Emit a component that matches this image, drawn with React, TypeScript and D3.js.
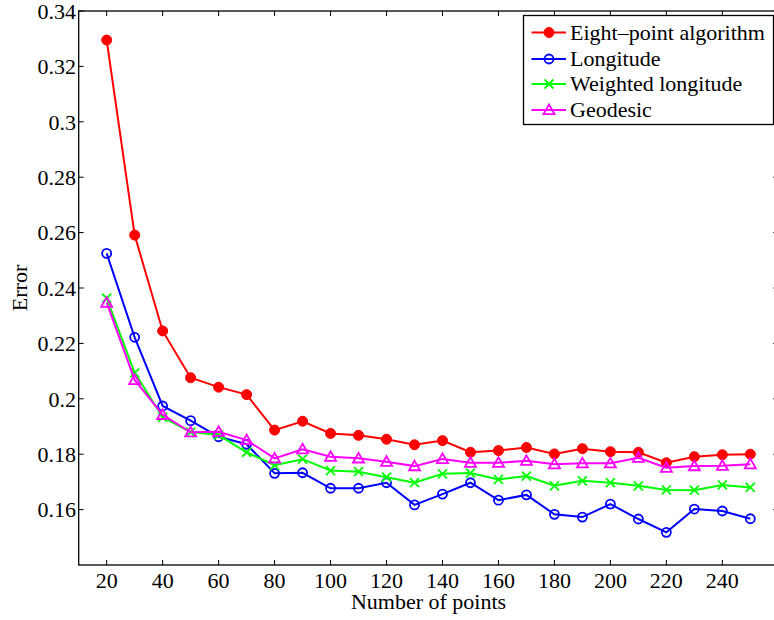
import React from "react";
import * as d3 from "d3";

const xValues = [20, 30, 40, 50, 60, 70, 80, 90, 100, 110, 120, 130, 140, 150, 160, 170, 180, 190, 200, 210, 220, 230, 240, 250];
const eightPoint = [0.3295, 0.2591, 0.2245, 0.2076, 0.2042, 0.2015, 0.1887, 0.1919, 0.1875, 0.1868, 0.1854, 0.1834, 0.1849, 0.1807, 0.1813, 0.1824, 0.1801, 0.1820, 0.1809, 0.1807, 0.1769, 0.1791, 0.1798, 0.1800];
const longitude = [0.2525, 0.2222, 0.1974, 0.1921, 0.1863, 0.1836, 0.1731, 0.1733, 0.1677, 0.1677, 0.1697, 0.1617, 0.1656, 0.1697, 0.1634, 0.1653, 0.1583, 0.1573, 0.1620, 0.1566, 0.1518, 0.1602, 0.1595, 0.1567];
const weighted = [0.2363, 0.2094, 0.1933, 0.1880, 0.1869, 0.1807, 0.1760, 0.1782, 0.1741, 0.1737, 0.1717, 0.1697, 0.1729, 0.1732, 0.1709, 0.1721, 0.1686, 0.1704, 0.1697, 0.1686, 0.1671, 0.1670, 0.1689, 0.1680];
const geodesic = [0.2347, 0.2068, 0.1942, 0.1879, 0.1881, 0.1851, 0.1785, 0.1818, 0.1791, 0.1785, 0.1773, 0.1757, 0.1783, 0.1769, 0.1769, 0.1776, 0.1764, 0.1767, 0.1767, 0.1787, 0.1751, 0.1757, 0.1758, 0.1764];

const xTicks = [20, 40, 60, 80, 100, 120, 140, 160, 180, 200, 220, 240];
const yTicks = [0.16, 0.18, 0.2, 0.22, 0.24, 0.26, 0.28, 0.3, 0.32, 0.34];
const yTickLabels = ["0.16", "0.18", "0.2", "0.22", "0.24", "0.26", "0.28", "0.3", "0.32", "0.34"];

const seriesNames = ["Eight\u2013point algorithm", "Longitude", "Weighted longitude", "Geodesic"];
const seriesColors = ["#ff0000", "#0000ff", "#00ff00", "#ff00ff"];
const seriesMarkers = ["dot", "circle", "x", "tri"];
const seriesData = [eightPoint, longitude, weighted, geodesic];

const FONT = "'Liberation Serif', 'Times New Roman', serif";

function Marker({ type, x, y, color }: { type: string; x: number; y: number; color: string }) {
  if (type === "dot") return <circle cx={x} cy={y} r={5} fill={color} stroke={color} strokeWidth={1} />;
  if (type === "circle") return <circle cx={x} cy={y} r={4.5} fill="none" stroke={color} strokeWidth={1.8} />;
  if (type === "x") {
    const s = 4.5;
    return (
      <g stroke={color} strokeWidth={1.8}>
        <line x1={x - s} y1={y - s} x2={x + s} y2={y + s} />
        <line x1={x - s} y1={y + s} x2={x + s} y2={y - s} />
      </g>
    );
  }
  const s = 5.5;
  return (
    <path
      d={`M${x},${y - s} L${x + s},${y + s * 0.75} L${x - s},${y + s * 0.75} Z`}
      fill="none"
      stroke={color}
      strokeWidth={1.8}
    />
  );
}

export default function App() {
  const W = 774;
  const H = 620;
  const left = 78.7;
  const right = 778.3;
  const top = 11;
  const bottom = 565;
  const x = d3.scaleLinear().domain([10, 260]).range([left, right]);
  const y = d3.scaleLinear().domain([0.14, 0.34]).range([bottom, top]);
  const line = d3
    .line<number>()
    .x((_, i) => x(xValues[i]))
    .y((d) => y(d));
  const tk = 5;

  const legX = 523.5;
  const legY = 15.5;
  const legW = 250;
  const legH = 109;
  const rowY = [32.5, 59, 84, 110];

  return (
    <svg
      width={W}
      height={H}
      style={{ position: "absolute", left: 0, top: 0, background: "#fff" }}
      fontFamily={FONT}
    >
      <rect x={0} y={0} width={W} height={H} fill="#fff" />
      {/* axes box */}
      <rect x={left} y={top} width={right - left} height={bottom - top} fill="none" stroke="#000" strokeWidth={1.3} />
      {xTicks.map((t) => (
        <g key={"xt" + t}>
          <line x1={x(t)} x2={x(t)} y1={bottom} y2={bottom - tk} stroke="#000" strokeWidth={1} />
          <line x1={x(t)} x2={x(t)} y1={top} y2={top + tk} stroke="#000" strokeWidth={1} />
          <text x={x(t)} y={588} fontSize={22} textAnchor="middle" fill="#000">
            {t}
          </text>
        </g>
      ))}
      {yTicks.map((t, i) => (
        <g key={"yt" + t}>
          <line x1={left} x2={left + tk} y1={y(t)} y2={y(t)} stroke="#000" strokeWidth={1} />
          <line x1={right} x2={right - tk} y1={y(t)} y2={y(t)} stroke="#000" strokeWidth={1} />
          <text x={76} y={y(t)} dy="0.35em" fontSize={22} textAnchor="end" fill="#000">
            {yTickLabels[i]}
          </text>
        </g>
      ))}
      <text x={(left + right) / 2} y={609} fontSize={22} textAnchor="middle" fill="#000">
        Number of points
      </text>
      <text
        transform={`translate(27,${(top + bottom) / 2}) rotate(-90)`}
        fontSize={22}
        textAnchor="middle"
        fill="#000"
      >
        Error
      </text>
      {/* series */}
      {seriesData.map((data, si) => (
        <g key={"s" + si}>
          <path d={line(data) || ""} fill="none" stroke={seriesColors[si]} strokeWidth={2} />
          {data.map((v, i) => (
            <Marker key={i} type={seriesMarkers[si]} x={x(xValues[i])} y={y(v)} color={seriesColors[si]} />
          ))}
        </g>
      ))}
      {/* legend */}
      <rect x={legX} y={legY} width={legW} height={legH} fill="#fff" stroke="#000" strokeWidth={1.3} />
      {seriesNames.map((n, i) => (
        <g key={"l" + i}>
          <line x1={531.5} x2={566} y1={rowY[i]} y2={rowY[i]} stroke={seriesColors[i]} strokeWidth={2} />
          <Marker type={seriesMarkers[i]} x={549} y={rowY[i]} color={seriesColors[i]} />
          <text x={570} y={rowY[i]} dy="0.33em" fontSize={22} fill="#000">
            {n}
          </text>
        </g>
      ))}
    </svg>
  );
}
